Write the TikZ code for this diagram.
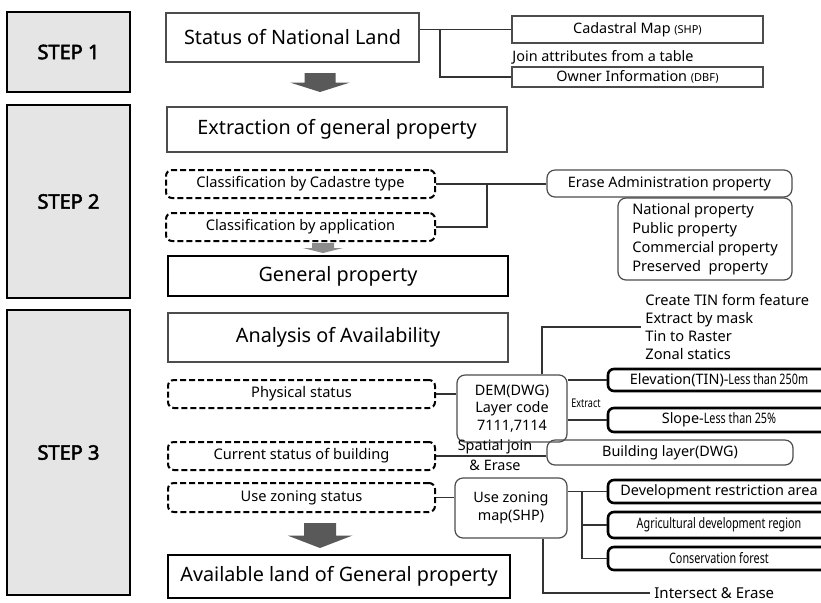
\documentclass[tikz,border=0pt]{standalone}
\usepackage{fontspec}
\setmainfont{Noto Sans}[AutoFakeBold=2.5]
\usepackage{graphicx}

\begin{document}
\begin{tikzpicture}[x=0.5pt, y=-0.5pt,
    stepbox/.style={rectangle, draw=black, line width=1.3pt, fill=gray!20, minimum width=61.5pt, font=\fontsize{10}{12}\selectfont\bfseries},
    headbox/.style={rectangle, draw=black!70, line width=0.6pt, inner sep=0pt, font=\fontsize{9.9}{12}\selectfont},
    resultbox/.style={headbox, draw=black, line width=1.2pt},
    taskbox/.style={rectangle, rounded corners=3pt, draw=black, line width=1pt, dash pattern=on 3pt off 1.5pt, inner sep=0pt, font=\fontsize{7.3}{9}\selectfont},
    databox/.style={rectangle, draw=black!70, line width=0.6pt, inner sep=0pt, font=\fontsize{7.2}{9}\selectfont},
    layerbox/.style={databox, rounded corners=4pt},
    critbox/.style={rectangle, rounded corners=3pt, draw=black, line width=1.3pt, inner sep=0pt, font=\fontsize{7.2}{9}\selectfont},
    note/.style={inner sep=2pt, font=\fontsize{7.2}{9}\selectfont, align=left},
    link/.style={draw=black!80, line width=0.6pt},
]

\useasboundingbox (0,0) rectangle (821,602);

% ---- Layout ----
\def\xs{68.5}
\def\xt{301.5}
\def\xm{338}
\def\xc{719}
\def\sm{\fontsize{5.5}{7}\selectfont}
\def\cnd#1{\scalebox{0.75}[1]{#1}}

% ---- Steps ----
\node[stepbox, minimum height=40pt] (s1) at (\xs,52) {STEP 1};
\node[stepbox, minimum height=96.5pt] (s2) at (\xs,201.5) {STEP 2};
\node[stepbox, minimum height=142.5pt] (s3) at (\xs,452.5) {STEP 3};

% ---- Step 1 ----
\node[headbox, minimum width=126.5pt, minimum height=24.5pt] (status) at (292.5,37.5) {Status of National Land};
\node[databox, minimum width=125.5pt, minimum height=13.5pt] (cad) at (637.5,29.5) {Cadastral Map {\sm(SHP)}};
\node[databox, minimum width=125.5pt, minimum height=10pt] (owner) at (637.5,77) {Owner Information {\sm(DBF)}};
\node[note, anchor=west] (joinlbl) at (508,57) {Join attributes from a table};

\coordinate (j1) at (440,0);
\draw[link] (status.east |- cad.west) -- (cad.west);
\draw[link] (j1 |- cad.west) |- (owner.west);

% ---- Step 2 ----
\node[headbox, minimum width=170pt, minimum height=22.5pt] (extract) at (337,129.5) {Extraction of general property};
\node[taskbox, minimum width=134.5pt, minimum height=14pt] (cadtype) at (300.5,184) {Classification by Cadastre type};
\node[taskbox, minimum width=134.5pt, minimum height=14pt] (app) at (300.5,227) {Classification by application};
\node[resultbox, minimum width=170pt, minimum height=20pt] (genprop) at (\xm,276) {General property};
\node[layerbox, minimum width=122.5pt, minimum height=13.5pt] (erase) at (669.5,183.5) {Erase Administration property};
\node[layerbox, minimum width=87pt, minimum height=41pt, align=left, font=\fontsize{7.3}{9.5}\selectfont] (proplist) at (705,239) {National property\\Public property\\Commercial property\\Preserved\ \ property};

\coordinate (j2) at (487,0);
\draw[link] (cadtype.east) -- (cadtype.east -| erase.west);
\draw[link] (app.east) -| (j2 |- cadtype.east);

% ---- Step 3 ----
\node[headbox, minimum width=170pt, minimum height=24.5pt] (analysis) at (\xm,337.5) {Analysis of Availability};
\node[taskbox, minimum width=133.5pt, minimum height=14pt] (physical) at (\xt,394) {Physical status};
\node[taskbox, minimum width=133.5pt, minimum height=14pt] (bldgstat) at (\xt,456) {Current status of building};
\node[taskbox, minimum width=133.5pt, minimum height=14.5pt] (zonestat) at (\xt,497.5) {Use zoning status};
\node[resultbox, minimum width=171pt, minimum height=21.5pt] (avail) at (339,576.5) {Available land of General property};

\node[note, anchor=west, font=\fontsize{7.3}{9}\selectfont] (tinops) at (641,327) {Create TIN form feature\\Extract by mask\\Tin to Raster\\Zonal statics};
\node[layerbox, minimum width=55pt, minimum height=33.5pt, align=center, font=\fontsize{7.2}{8.8}\selectfont] (dem) at (512,408.5) {DEM(DWG)\\Layer code\\7111,7114};
\node[critbox, minimum width=111pt, minimum height=11pt] (elev) at (\xc,380) {Elevation(TIN)-\cnd{Less than 250m}};
\node[critbox, minimum width=111pt, minimum height=12pt] (slope) at (\xc,420) {Slope-\cnd{Less than 25\%}};
\node[inner sep=0pt, font=\fontsize{6}{7}\selectfont] (extlbl) at (586,403) {\cnd{Extract}};

\node[layerbox, minimum width=123pt, minimum height=12.5pt] (bldg) at (670,452.5) {Building layer(DWG)};
\node[note, align=center, font=\fontsize{7.2}{10}\selectfont] (sjlbl) at (495,455) {Spatial join\\\& Erase};

\node[layerbox, minimum width=56pt, minimum height=30pt, align=center, font=\fontsize{7.2}{9}\selectfont] (zmap) at (511,508) {Use zoning\\map(SHP)};
\node[critbox, minimum width=111pt, minimum height=11.5pt] (dev) at (\xc,491.5) {Development restriction area};
\node[critbox, minimum width=111pt, minimum height=13pt] (agri) at (\xc,525) {\cnd{Agricultural development region}};
\node[critbox, minimum width=111pt, minimum height=11.5pt] (cons) at (\xc,558.5) {\cnd{Conservation forest}};
\node[note, anchor=west, font=\fontsize{7.5}{9}\selectfont] (isect) at (650,593) {Intersect \& Erase};

\coordinate (j3) at (542,0);
\coordinate (j4) at (582,0);
\coordinate (j5) at (543,0);
\draw[link] (physical.east) -- (physical.east -| dem.west);
\draw[link] (j3 |- dem.north) |- (tinops.west);
\draw[link] (dem.east |- elev.west) -- (elev.west);
\draw[link] (dem.east |- slope.west) -- (slope.west);
\draw[link] (bldgstat.east) -- (bldgstat.east -| bldg.west);
\draw[link] (zonestat.east) -- (zonestat.east -| zmap.west);
\draw[link] (zmap.east |- dev.west) -- (dev.west);
\draw[link] (j4 |- dev.west) |- (agri.west);
\draw[link] (j4 |- dev.west) |- (cons.west);
\draw[link] (j5 |- zmap.south) |- (isect.west);

% ---- Block arrows ----
\foreach \ax/\ay/\al/\bw/\hw/\sh in {320/73/19/31/60/65, 323/243/10/22/40/45, 320/523/25/32/65/65} {
    \fill[black!\sh] (\ax-\bw/2,\ay) -- (\ax+\bw/2,\ay) -- (\ax+\bw/2,\ay+\al/2) -- (\ax+\hw/2,\ay+\al/2)
        -- (\ax,\ay+\al) -- (\ax-\hw/2,\ay+\al/2) -- (\ax-\bw/2,\ay+\al/2) -- cycle;
}

\end{tikzpicture}
\end{document}
